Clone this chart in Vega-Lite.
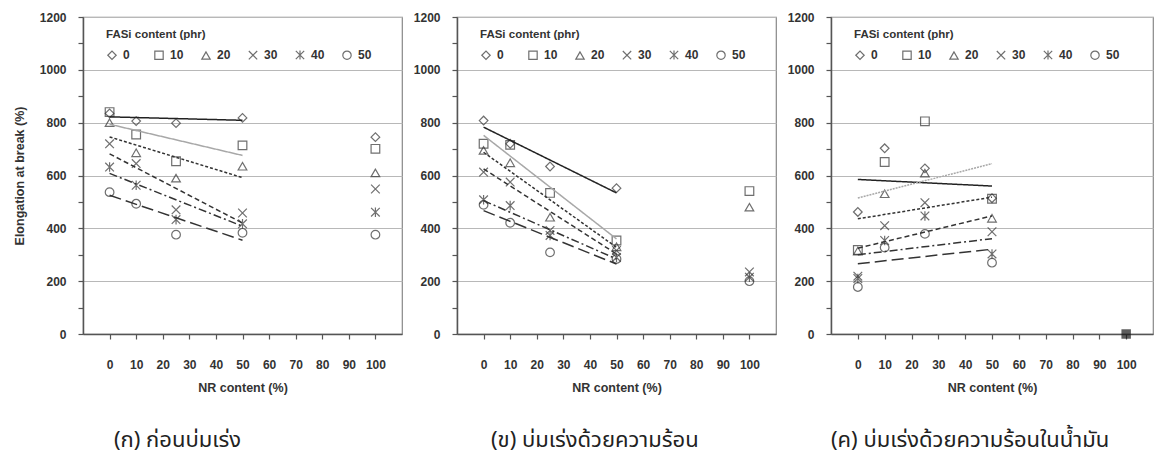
{
  "$schema": "https://vega.github.io/schema/vega-lite/v6.json",
  "background": "white",
  "padding": {"left": 12, "top": 10, "right": 0, "bottom": 8},
  "spacing": 9,
  "datasets": {
    "pts": [
      {"p": "a", "fasi": "0", "nr": 0, "el": 835}, {"p": "a", "fasi": "0", "nr": 10, "el": 806}, {"p": "a", "fasi": "0", "nr": 25, "el": 798}, {"p": "a", "fasi": "0", "nr": 50, "el": 818}, {"p": "a", "fasi": "0", "nr": 100, "el": 745},
      {"p": "a", "fasi": "10", "nr": 0, "el": 840}, {"p": "a", "fasi": "10", "nr": 10, "el": 755}, {"p": "a", "fasi": "10", "nr": 25, "el": 654}, {"p": "a", "fasi": "10", "nr": 50, "el": 714}, {"p": "a", "fasi": "10", "nr": 100, "el": 701},
      {"p": "a", "fasi": "20", "nr": 0, "el": 800}, {"p": "a", "fasi": "20", "nr": 10, "el": 686}, {"p": "a", "fasi": "20", "nr": 25, "el": 590}, {"p": "a", "fasi": "20", "nr": 50, "el": 635}, {"p": "a", "fasi": "20", "nr": 100, "el": 610},
      {"p": "a", "fasi": "30", "nr": 0, "el": 720}, {"p": "a", "fasi": "30", "nr": 10, "el": 645}, {"p": "a", "fasi": "30", "nr": 25, "el": 470}, {"p": "a", "fasi": "30", "nr": 50, "el": 458}, {"p": "a", "fasi": "30", "nr": 100, "el": 549},
      {"p": "a", "fasi": "40", "nr": 0, "el": 632}, {"p": "a", "fasi": "40", "nr": 10, "el": 563}, {"p": "a", "fasi": "40", "nr": 25, "el": 433}, {"p": "a", "fasi": "40", "nr": 50, "el": 417}, {"p": "a", "fasi": "40", "nr": 100, "el": 461},
      {"p": "a", "fasi": "50", "nr": 0, "el": 537}, {"p": "a", "fasi": "50", "nr": 10, "el": 493}, {"p": "a", "fasi": "50", "nr": 25, "el": 376}, {"p": "a", "fasi": "50", "nr": 50, "el": 383}, {"p": "a", "fasi": "50", "nr": 100, "el": 376},

      {"p": "b", "fasi": "0", "nr": 0, "el": 808}, {"p": "b", "fasi": "0", "nr": 10, "el": 720}, {"p": "b", "fasi": "0", "nr": 25, "el": 634}, {"p": "b", "fasi": "0", "nr": 50, "el": 552},
      {"p": "b", "fasi": "10", "nr": 0, "el": 720}, {"p": "b", "fasi": "10", "nr": 10, "el": 716}, {"p": "b", "fasi": "10", "nr": 25, "el": 534}, {"p": "b", "fasi": "10", "nr": 50, "el": 354}, {"p": "b", "fasi": "10", "nr": 100, "el": 541},
      {"p": "b", "fasi": "20", "nr": 0, "el": 695}, {"p": "b", "fasi": "20", "nr": 10, "el": 648}, {"p": "b", "fasi": "20", "nr": 25, "el": 442}, {"p": "b", "fasi": "20", "nr": 50, "el": 330}, {"p": "b", "fasi": "20", "nr": 100, "el": 480},
      {"p": "b", "fasi": "30", "nr": 0, "el": 613}, {"p": "b", "fasi": "30", "nr": 10, "el": 575}, {"p": "b", "fasi": "30", "nr": 25, "el": 392}, {"p": "b", "fasi": "30", "nr": 50, "el": 316}, {"p": "b", "fasi": "30", "nr": 100, "el": 235},
      {"p": "b", "fasi": "40", "nr": 0, "el": 508}, {"p": "b", "fasi": "40", "nr": 10, "el": 486}, {"p": "b", "fasi": "40", "nr": 25, "el": 373}, {"p": "b", "fasi": "40", "nr": 50, "el": 290}, {"p": "b", "fasi": "40", "nr": 100, "el": 215},
      {"p": "b", "fasi": "50", "nr": 0, "el": 489}, {"p": "b", "fasi": "50", "nr": 10, "el": 421}, {"p": "b", "fasi": "50", "nr": 25, "el": 309}, {"p": "b", "fasi": "50", "nr": 50, "el": 284}, {"p": "b", "fasi": "50", "nr": 100, "el": 200},

      {"p": "c", "fasi": "0", "nr": 0, "el": 462}, {"p": "c", "fasi": "0", "nr": 10, "el": 703}, {"p": "c", "fasi": "0", "nr": 25, "el": 627}, {"p": "c", "fasi": "0", "nr": 50, "el": 514},
      {"p": "c", "fasi": "10", "nr": 0, "el": 318}, {"p": "c", "fasi": "10", "nr": 10, "el": 651}, {"p": "c", "fasi": "10", "nr": 25, "el": 805}, {"p": "c", "fasi": "10", "nr": 50, "el": 512},
      {"p": "c", "fasi": "20", "nr": 0, "el": 314}, {"p": "c", "fasi": "20", "nr": 10, "el": 531}, {"p": "c", "fasi": "20", "nr": 25, "el": 609}, {"p": "c", "fasi": "20", "nr": 50, "el": 438},
      {"p": "c", "fasi": "30", "nr": 0, "el": 219}, {"p": "c", "fasi": "30", "nr": 10, "el": 410}, {"p": "c", "fasi": "30", "nr": 25, "el": 497}, {"p": "c", "fasi": "30", "nr": 50, "el": 387},
      {"p": "c", "fasi": "40", "nr": 0, "el": 210}, {"p": "c", "fasi": "40", "nr": 10, "el": 354}, {"p": "c", "fasi": "40", "nr": 25, "el": 447}, {"p": "c", "fasi": "40", "nr": 50, "el": 303},
      {"p": "c", "fasi": "50", "nr": 0, "el": 178}, {"p": "c", "fasi": "50", "nr": 10, "el": 327}, {"p": "c", "fasi": "50", "nr": 25, "el": 379}, {"p": "c", "fasi": "50", "nr": 50, "el": 270}
    ],
    "trend": [
      {"p": "a", "s": "L0", "nr": 0, "el": 822}, {"p": "a", "s": "L0", "nr": 50, "el": 809},
      {"p": "a", "s": "L10", "nr": 0, "el": 794}, {"p": "a", "s": "L10", "nr": 50, "el": 676},
      {"p": "a", "s": "L20", "nr": 0, "el": 746}, {"p": "a", "s": "L20", "nr": 50, "el": 592},
      {"p": "a", "s": "L30", "nr": 0, "el": 682}, {"p": "a", "s": "L30", "nr": 50, "el": 420},
      {"p": "a", "s": "L40", "nr": 0, "el": 608}, {"p": "a", "s": "L40", "nr": 50, "el": 408},
      {"p": "a", "s": "L50", "nr": 0, "el": 525}, {"p": "a", "s": "L50", "nr": 50, "el": 355},
      {"p": "b", "s": "L0", "nr": 0, "el": 783}, {"p": "b", "s": "L0", "nr": 50, "el": 534},
      {"p": "b", "s": "L10", "nr": 0, "el": 752}, {"p": "b", "s": "L10", "nr": 50, "el": 360},
      {"p": "b", "s": "L20", "nr": 0, "el": 688}, {"p": "b", "s": "L20", "nr": 50, "el": 328},
      {"p": "b", "s": "L30", "nr": 0, "el": 625}, {"p": "b", "s": "L30", "nr": 50, "el": 303},
      {"p": "b", "s": "L40", "nr": 0, "el": 505}, {"p": "b", "s": "L40", "nr": 50, "el": 284},
      {"p": "b", "s": "L50", "nr": 0, "el": 467}, {"p": "b", "s": "L50", "nr": 50, "el": 265},
      {"p": "c", "s": "L0", "nr": 0, "el": 585}, {"p": "c", "s": "L0", "nr": 50, "el": 560},
      {"p": "c", "s": "L10", "nr": 0, "el": 515}, {"p": "c", "s": "L10", "nr": 50, "el": 645},
      {"p": "c", "s": "L20", "nr": 0, "el": 436}, {"p": "c", "s": "L20", "nr": 50, "el": 518},
      {"p": "c", "s": "L30", "nr": 0, "el": 325}, {"p": "c", "s": "L30", "nr": 50, "el": 447},
      {"p": "c", "s": "L40", "nr": 0, "el": 300}, {"p": "c", "s": "L40", "nr": 50, "el": 361},
      {"p": "c", "s": "L50", "nr": 0, "el": 266}, {"p": "c", "s": "L50", "nr": 50, "el": 321}
    ],
    "zero": [
      {"p": "c", "nr": 100, "el": 0}
    ]
  },
  "hconcat": [
    {
      "width": 319, "height": 317,
      "title": {"text": "(ก) ก่อนบ่มเร่ง", "orient": "bottom", "anchor": "start", "frame": "group", "dx": 31, "offset": 36},
      "data": {"name": "pts"},
      "transform": [{"filter": "datum.p === 'a'"}],
      "encoding": {
        "x": {"field": "nr", "type": "quantitative", "scale": {"domain": [-10, 110], "nice": false, "zero": false},
          "axis": {"title": "NR content (%)", "values": [0, 10, 20, 30, 40, 50, 60, 70, 80, 90, 100], "grid": false, "labelPadding": 20, "titlePadding": 11, "labelFlush": false, "labelOverlap": false}},
        "y": {"field": "el", "type": "quantitative", "scale": {"domain": [0, 1200], "nice": false},
          "axis": {"title": "Elongation at break (%)", "titlePadding": 13, "values": [0, 100, 200, 300, 400, 500, 600, 700, 800, 900, 1000, 1100, 1200], "labelExpr": "datum.value % 200 === 0 ? datum.label : ''", "format": "d", "grid": true, "gridColor": "#b8b8b8", "gridOpacity": {"condition": {"test": "datum.value % 200 === 0", "value": 1}, "value": 0}, "labelPadding": 12, "labelOverlap": false}}
      },
      "layer": [
        {
          "mark": {"type": "point", "filled": false, "color": "#333333", "strokeWidth": 1.2, "size": 75},
          "encoding": {
            "shape": {"field": "fasi", "type": "nominal", "title": "FASi content (phr)",
              "scale": {"domain": ["0", "10", "20", "30", "40", "50"], "range": ["diamond", "square", "triangle-up", "M-1,-1L1,1M-1,1L1,-1", "M-1,-1L1,1M-1,1L1,-1M0,-1.1L0,1.1", "circle"]},
              "legend": {"orient": "none", "legendX": 23, "legendY": 12, "direction": "horizontal", "columns": 6}}
          }
        },
        {
          "data": {"name": "trend"},
          "transform": [{"filter": "datum.p === 'a'"}],
          "mark": {"type": "line", "strokeWidth": 1.5},
          "encoding": {
            "detail": {"field": "s"},
            "color": {"field": "s", "type": "nominal", "legend": null, "scale": {"domain": ["L0", "L10", "L20", "L30", "L40", "L50"], "range": ["#222222", "#a8a8a8", "#333333", "#333333", "#333333", "#333333"]}},
            "strokeDash": {"field": "s", "type": "nominal", "legend": null, "scale": {"domain": ["L0", "L10", "L20", "L30", "L40", "L50"], "range": [[1, 0], [1, 0], [3, 2], [5, 3], [8, 3, 2, 3], [12, 5]]}}
          }
        }
      ]
    },
    {
      "width": 319, "height": 317,
      "title": {"text": "(ข) บ่มเร่งด้วยความร้อน", "orient": "bottom", "anchor": "start", "frame": "group", "dx": 34, "offset": 36},
      "data": {"name": "pts"},
      "transform": [{"filter": "datum.p === 'b'"}],
      "encoding": {
        "x": {"field": "nr", "type": "quantitative", "scale": {"domain": [-10, 110], "nice": false, "zero": false},
          "axis": {"title": "NR content (%)", "values": [0, 10, 20, 30, 40, 50, 60, 70, 80, 90, 100], "grid": false, "labelPadding": 20, "titlePadding": 11, "labelFlush": false, "labelOverlap": false}},
        "y": {"field": "el", "type": "quantitative", "scale": {"domain": [0, 1200], "nice": false},
          "axis": {"title": null, "values": [0, 100, 200, 300, 400, 500, 600, 700, 800, 900, 1000, 1100, 1200], "labelExpr": "datum.value % 200 === 0 ? datum.label : ''", "format": "d", "grid": true, "gridColor": "#b8b8b8", "gridOpacity": {"condition": {"test": "datum.value % 200 === 0", "value": 1}, "value": 0}, "labelPadding": 12, "labelOverlap": false}}
      },
      "layer": [
        {
          "mark": {"type": "point", "filled": false, "color": "#333333", "strokeWidth": 1.2, "size": 75},
          "encoding": {
            "shape": {"field": "fasi", "type": "nominal", "title": "FASi content (phr)",
              "scale": {"domain": ["0", "10", "20", "30", "40", "50"], "range": ["diamond", "square", "triangle-up", "M-1,-1L1,1M-1,1L1,-1", "M-1,-1L1,1M-1,1L1,-1M0,-1.1L0,1.1", "circle"]},
              "legend": {"orient": "none", "legendX": 23, "legendY": 12, "direction": "horizontal", "columns": 6}}
          }
        },
        {
          "data": {"name": "trend"},
          "transform": [{"filter": "datum.p === 'b'"}],
          "mark": {"type": "line", "strokeWidth": 1.5},
          "encoding": {
            "detail": {"field": "s"},
            "color": {"field": "s", "type": "nominal", "legend": null, "scale": {"domain": ["L0", "L10", "L20", "L30", "L40", "L50"], "range": ["#222222", "#a8a8a8", "#333333", "#333333", "#333333", "#333333"]}},
            "strokeDash": {"field": "s", "type": "nominal", "legend": null, "scale": {"domain": ["L0", "L10", "L20", "L30", "L40", "L50"], "range": [[1, 0], [1, 0], [3, 2], [5, 3], [8, 3, 2, 3], [12, 5]]}}
          }
        }
      ]
    },
    {
      "width": 322, "height": 317,
      "title": {"text": "(ค) บ่มเร่งด้วยความร้อนในน้ำมัน", "orient": "bottom", "anchor": "start", "frame": "group", "dx": 0, "offset": 36},
      "data": {"name": "pts"},
      "transform": [{"filter": "datum.p === 'c'"}],
      "encoding": {
        "x": {"field": "nr", "type": "quantitative", "scale": {"domain": [-10, 110], "nice": false, "zero": false},
          "axis": {"title": "NR content (%)", "values": [0, 10, 20, 30, 40, 50, 60, 70, 80, 90, 100], "grid": false, "labelPadding": 20, "titlePadding": 11, "labelFlush": false, "labelOverlap": false}},
        "y": {"field": "el", "type": "quantitative", "scale": {"domain": [0, 1200], "nice": false},
          "axis": {"title": null, "values": [0, 100, 200, 300, 400, 500, 600, 700, 800, 900, 1000, 1100, 1200], "labelExpr": "datum.value % 200 === 0 ? datum.label : ''", "format": "d", "grid": true, "gridColor": "#b8b8b8", "gridOpacity": {"condition": {"test": "datum.value % 200 === 0", "value": 1}, "value": 0}, "labelPadding": 12, "labelOverlap": false}}
      },
      "layer": [
        {
          "mark": {"type": "point", "filled": false, "color": "#333333", "strokeWidth": 1.2, "size": 75},
          "encoding": {
            "shape": {"field": "fasi", "type": "nominal", "title": "FASi content (phr)",
              "scale": {"domain": ["0", "10", "20", "30", "40", "50"], "range": ["diamond", "square", "triangle-up", "M-1,-1L1,1M-1,1L1,-1", "M-1,-1L1,1M-1,1L1,-1M0,-1.1L0,1.1", "circle"]},
              "legend": {"orient": "none", "legendX": 23, "legendY": 12, "direction": "horizontal", "columns": 6}}
          }
        },
        {
          "data": {"name": "trend"},
          "transform": [{"filter": "datum.p === 'c'"}],
          "mark": {"type": "line", "strokeWidth": 1.5},
          "encoding": {
            "detail": {"field": "s"},
            "color": {"field": "s", "type": "nominal", "legend": null, "scale": {"domain": ["L0", "L10", "L20", "L30", "L40", "L50"], "range": ["#222222", "#a8a8a8", "#333333", "#333333", "#333333", "#333333"]}},
            "strokeDash": {"field": "s", "type": "nominal", "legend": null, "scale": {"domain": ["L0", "L10", "L20", "L30", "L40", "L50"], "range": [[1, 0], [2, 1], [3, 2], [5, 3], [8, 3, 2, 3], [12, 5]]}}
          }
        },
        {
          "data": {"name": "zero"},
          "mark": {"type": "square", "filled": true, "color": "#1a1a1a", "size": 90}
        }
      ]
    }
  ],
  "resolve": {
    "scale": {"shape": "independent", "color": "independent", "strokeDash": "independent"},
    "legend": {"shape": "independent"}
  },
  "config": {
    "font": "Liberation Sans",
    "view": {"stroke": "#888888", "strokeWidth": 1.2},
    "axis": {
      "labelFont": "Liberation Sans", "labelFontWeight": "bold", "labelFontSize": 12, "labelColor": "#333333",
      "titleFont": "Liberation Sans", "titleFontWeight": "bold", "titleFontSize": 12.5, "titleColor": "#333333",
      "domainColor": "#555555", "domainWidth": 1.5, "tickColor": "#555555", "tickSize": 5, "tickWidth": 1.2
    },
    "legend": {
      "titleFont": "Liberation Sans", "titleFontSize": 11.5, "titleFontWeight": "bold", "titleColor": "#333333", "titlePadding": 8,
      "labelFont": "Liberation Sans", "labelFontSize": 12, "labelFontWeight": "bold", "labelColor": "#333333", "labelOffset": 5,
      "symbolSize": 70, "symbolStrokeWidth": 1.2, "symbolStrokeColor": "#333333", "symbolFillColor": "transparent",
      "gridAlign": "all", "columnPadding": 15
    },
    "title": {"font": "Noto Sans Thai, Noto Sans, sans-serif", "fontSize": 22, "fontWeight": "normal", "color": "#222222"}
  }
}
